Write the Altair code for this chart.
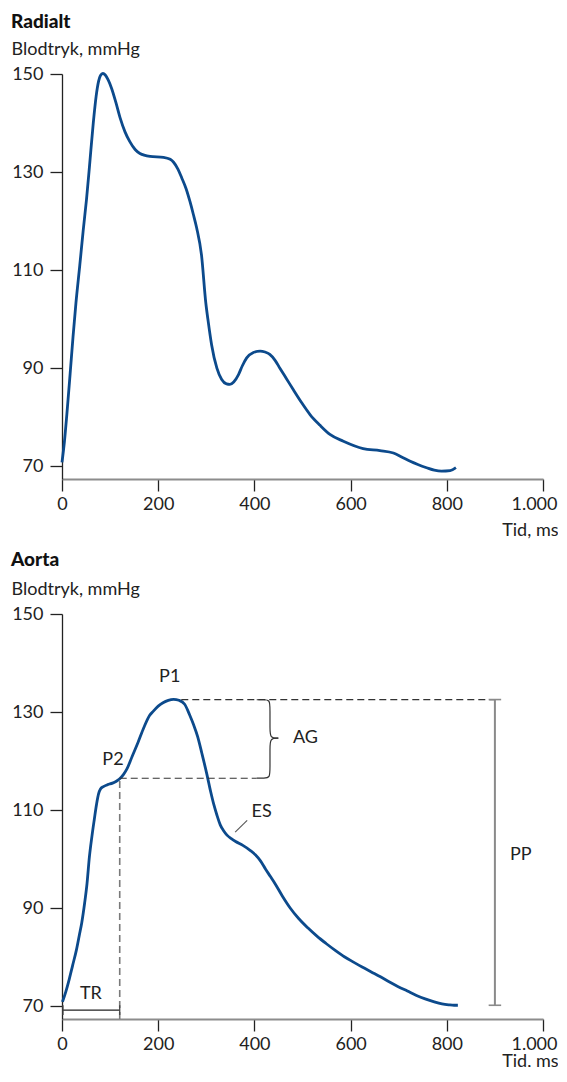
import altair as alt
import pandas as pd

FONT = "Lato"
BLUE = "#0c4a8c"
INK = "#222222"

# ---------------- data ----------------
# Radial artery pulse wave (time in ms, pressure in mmHg)
rad_t = [0, 5, 10, 17, 23, 29, 37, 44, 51, 57, 65, 71, 76, 80, 85, 90, 96, 103, 112, 121,
         131, 141, 152, 162, 183, 211, 225, 232, 241, 249, 258, 266, 273, 280, 290, 299, 304, 311, 322, 332,
         342, 349, 357, 367, 375, 384, 398, 412, 422, 432, 443, 453, 467, 481, 498, 516, 536, 557, 585, 626,
         661, 689, 706, 724, 741, 758, 774, 789, 807, 819]
rad_p = [70.8, 75.0, 80.5, 89.0, 96.5, 103.3, 111.0, 118.0, 124.5, 131.0, 140.0, 145.5, 148.5, 149.7, 150.1, 149.8, 148.8, 147.1, 144.2, 141.0,
         138.2, 136.2, 134.6, 133.8, 133.2, 133.0, 132.6, 132.0, 130.6, 128.8, 126.6, 124.0, 121.4, 118.6, 113.1, 103.3, 99.5, 94.8, 90.0, 87.7,
         86.8, 86.7, 87.2, 88.7, 90.5, 92.1, 93.2, 93.5, 93.3, 92.8, 91.6, 90.0, 87.8, 85.6, 83.0, 80.5, 78.4, 76.5, 75.1, 73.6,
         73.2, 72.7, 71.9, 71.0, 70.3, 69.7, 69.2, 69.0, 69.1, 69.7]

# Aortic pulse wave
aor_t = [1, 8, 15, 22, 30, 36, 41, 47, 52, 57, 62, 67, 72, 76, 80, 86, 95, 105, 113, 120,
         128, 135, 146, 158, 170, 182, 190, 200, 210, 221, 232, 243, 255, 265, 274, 282, 291, 301, 309, 316,
         322, 329, 336, 343, 352, 361, 376, 391, 402, 413, 423, 433, 443, 458, 474, 492, 511, 530, 549, 568,
         587, 606, 624, 643, 662, 680, 699, 718, 737, 755, 774, 790, 804, 815, 823]
aor_p = [70.9, 73.0, 75.5, 78.3, 81.5, 84.5, 87.0, 91.0, 95.0, 100.5, 104.5, 108.0, 111.3, 113.3, 114.3, 114.8, 115.2, 115.5, 115.9, 116.4,
         117.3, 118.4, 121.0, 123.8, 126.8, 129.3, 130.2, 131.2, 131.9, 132.4, 132.6, 132.4, 131.6, 129.5, 127.3, 125.0, 121.5, 117.4, 113.8, 111.0,
         109.0, 107.0, 105.8, 104.9, 104.2, 103.6, 102.8, 101.8, 100.9, 99.6, 98.0, 96.5, 95.0, 92.5, 90.1, 87.9, 86.0, 84.3, 82.8, 81.4,
         80.1, 79.0, 78.0, 77.0, 76.0, 75.0, 74.0, 73.1, 72.2, 71.5, 70.9, 70.5, 70.3, 70.2, 70.2]

x_ticks = [0, 200, 400, 600, 800, 1000]
y_ticks = [70, 90, 110, 130, 150]
x_domain = [0, 1000]
y_domain = [67.4, 150]

# annotation values (aorta panel)
p1_level = 132.55
p2_time = 120
p2_level = 116.5
p1_dash_start = 248
pp_time = 900
pp_low = 70.2
pp_cap_half = 13
tr_start = 2
tr_level = 69.2
tr_cap_half = 1.0
brace_start = 404.8
es_t = [360]
es_t2 = [385]
es_p = [105.5]
es_p2 = [107.9]

brace_t = [404.8, 420, 432.4, 432.4, 432.4, 432.4, 449.7]
brace_upper = [132.51, 132.51, 132.51, 130.5, 126.6, 124.68, 124.68]
brace_lower = [116.53, 116.53, 116.53, 118.6, 122.7, 124.68, 124.68]

label_text = ["P1", "P2", "AG", "ES", "PP", "TR"]
label_t = [224, 106, 506, 415, 954, 60]
label_p = [137.1, 120.2, 124.8, 109.6, 100.8, 72.4]

# ---------------- helpers ----------------
xs = alt.Scale(domain=x_domain, nice=False, zero=False)
ys = alt.Scale(domain=y_domain, nice=False, zero=False)


def make_x_axis(title_y):
    return alt.Axis(
        values=x_ticks, title="Tid, ms",
        labelExpr="datum.value == 1000 ? '1.000' : datum.label",
        labelAlign={"condition": {"test": "datum.value == 1000", "value": "right"}, "value": "center"},
        labelOffset={"condition": {"test": "datum.value == 1000", "value": 14}, "value": 0},
        domainColor="#8c8c8c", domainWidth=2,
        labelPadding=4, labelFlush=False, labelOverlap=False,
        titleX=496, titleY=title_y, titleAlign="right", titleBaseline="alphabetic",
        titleAnchor="end",
    )


y_axis = alt.Axis(
    values=y_ticks, title="Blodtryk, mmHg",
    domainColor="#222222", domainWidth=1.3,
    labelPadding=7,
    titleAngle=0, titleX=-51, titleY=-20, titleAlign="left", titleBaseline="alphabetic",
    titleAnchor="start",
)


def encoders(x_axis):
    def X(f):
        return alt.X(f"{f}:Q", scale=xs, axis=x_axis)

    def Y(f):
        return alt.Y(f"{f}:Q", scale=ys, axis=y_axis)
    return X, Y


def wave(df, X, Y):
    return alt.Chart(df).mark_line(color=BLUE, strokeWidth=2.8, interpolate="monotone").encode(
        x=X("t"), y=Y("p"))


rad_df = pd.DataFrame({"t": rad_t, "p": rad_p})
aor_df = pd.DataFrame({"t": aor_t, "p": aor_p})

# ---------------- top panel ----------------
Xt, Yt = encoders(make_x_axis(56))
top = wave(rad_df, Xt, Yt).properties(
    width=481, height=405,
    title=alt.TitleParams("Radialt", anchor="start", frame="bounds", offset=-7, baseline="alphabetic"),
)

# ---------------- bottom panel ----------------
X, Y = encoders(make_x_axis(47))

hdash_df = pd.DataFrame({
    "t": [p1_dash_start, p2_time],
    "t2": [pp_time, brace_start],
    "p": [p1_level, p2_level],
})
hdash = alt.Chart(hdash_df).mark_rule(color="#333333", strokeWidth=1.2, strokeDash=[7, 4]).encode(
    x=X("t"), x2="t2:Q", y=Y("p"))

vdash_df = pd.DataFrame({"t": [p2_time], "p": [y_domain[0]], "p2": [p2_level]})
vdash = alt.Chart(vdash_df).mark_rule(color="#7a7a7a", strokeWidth=1.6, strokeDash=[7, 4]).encode(
    x=X("t"), y=Y("p"), y2="p2:Q")

ppv_df = pd.DataFrame({"t": [pp_time], "p": [pp_low], "p2": [p1_level]})
ppv = alt.Chart(ppv_df).mark_rule(color="#8a8a8a", strokeWidth=2).encode(
    x=X("t"), y=Y("p"), y2="p2:Q")
ppc_df = pd.DataFrame({"t": [pp_time - pp_cap_half] * 2, "t2": [pp_time + pp_cap_half] * 2,
                       "p": [pp_low, p1_level]})
ppc = alt.Chart(ppc_df).mark_rule(color="#8a8a8a", strokeWidth=1.6).encode(
    x=X("t"), x2="t2:Q", y=Y("p"))

trh_df = pd.DataFrame({"t": [tr_start], "t2": [p2_time], "p": [tr_level]})
trh = alt.Chart(trh_df).mark_rule(color="#222222", strokeWidth=1.3).encode(
    x=X("t"), x2="t2:Q", y=Y("p"))
trc_df = pd.DataFrame({"t": [tr_start, p2_time], "p": [tr_level - tr_cap_half] * 2,
                       "p2": [tr_level + tr_cap_half] * 2})
trc = alt.Chart(trc_df).mark_rule(color="#444444", strokeWidth=1.3).encode(
    x=X("t"), y=Y("p"), y2="p2:Q")

es_df = pd.DataFrame({"t": es_t, "t2": es_t2, "p": es_p, "p2": es_p2})
es = alt.Chart(es_df).mark_rule(color="#555555", strokeWidth=1.1).encode(
    x=X("t"), x2="t2:Q", y=Y("p"), y2="p2:Q")

brace_df = pd.DataFrame({
    "t": brace_t + brace_t,
    "p": brace_upper + brace_lower,
    "part": ["upper"] * len(brace_t) + ["lower"] * len(brace_t),
    "i": list(range(len(brace_t))) * 2,
})
brace = alt.Chart(brace_df).mark_line(color="#333333", strokeWidth=1.2, interpolate="basis").encode(
    x=X("t"), y=Y("p"), detail="part:N", order="i:Q")

lab_df = pd.DataFrame({"t": label_t, "p": label_p, "txt": label_text})
labels = alt.Chart(lab_df).mark_text(font=FONT, fontSize=18, color=INK, align="center",
                                     baseline="middle").encode(
    x=X("t"), y=Y("p"), text="txt:N")

bottom = alt.layer(
    wave(aor_df, X, Y), vdash, hdash, brace, ppv, ppc, trh, trc, es, labels
).properties(
    width=481, height=405,
    title=alt.TitleParams("Aorta", anchor="start", frame="bounds", offset=-5, baseline="alphabetic"),
)

chart = alt.vconcat(top, bottom, spacing=12).properties(
    padding={"left": 3, "right": 0, "top": 5, "bottom": -3}
).configure_view(stroke=None).configure_axis(
    labelFont=FONT, titleFont=FONT, labelFontSize=18, titleFontSize=18,
    labelColor=INK, titleColor=INK, titleFontWeight="normal",
    tickColor="#222222", tickWidth=1.3, tickSize=12, grid=False,
).configure_title(
    font=FONT, fontSize=19, fontWeight=900, color="#111111",
)

chart.save("out.html", embed_options={"renderer": "svg", "actions": False})
